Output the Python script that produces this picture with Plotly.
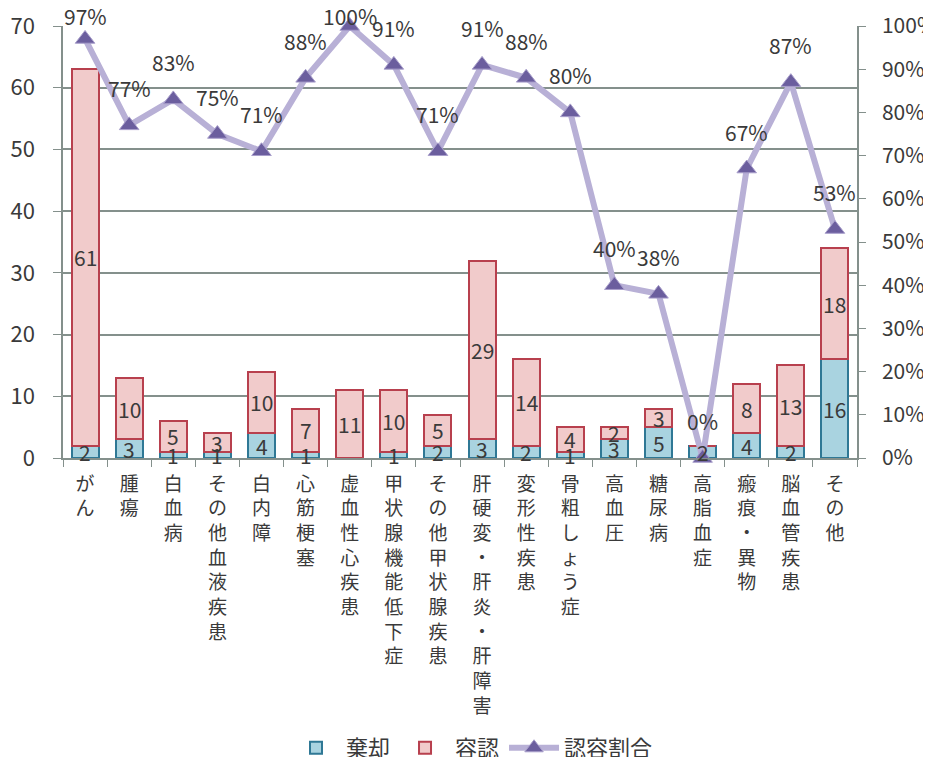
import plotly.graph_objects as go

categories = ["がん", "腫瘍", "白血病", "その他血液疾患", "白内障", "心筋梗塞", "虚血性心疾患",
              "甲状腺機能低下症", "その他甲状腺疾患", "肝硬変・肝炎・肝障害", "変形性疾患",
              "骨粗しょう症", "高血圧", "糖尿病", "高脂血症", "瘢痕・異物", "脳血管疾患", "その他"]
rejected = [2, 3, 1, 1, 4, 1, 0, 1, 2, 3, 2, 1, 3, 5, 2, 4, 2, 16]
accepted = [61, 10, 5, 3, 10, 7, 11, 10, 5, 29, 14, 4, 2, 3, 0, 8, 13, 18]
ratio = [0.97, 0.77, 0.83, 0.75, 0.71, 0.88, 1.00, 0.91, 0.71, 0.91, 0.88, 0.80,
         0.40, 0.38, 0.00, 0.67, 0.87, 0.53]
left_ticks = [0, 10, 20, 30, 40, 50, 60, 70]
right_ticks = [0, 0.1, 0.2, 0.3, 0.4, 0.5, 0.6, 0.7, 0.8, 0.9, 1.0]

FONT = "Noto Sans CJK JP"
TXT = "#3a3a3a"
GRID = "#84908c"

# page has an 8px body margin; figure coordinates = page coordinates - 8
W, H = 915, 749
PL, PR, PT, PB = 55, 849, 18, 450   # plot area in figure pixels

fig = go.Figure()
fig.add_trace(go.Bar(
    x=categories, y=rejected, name="棄却",
    marker=dict(color="#a9d3e0", line=dict(color="#2f7895", width=2)),
))
fig.add_trace(go.Bar(
    x=categories, y=accepted, name="容認",
    marker=dict(color="#f1cbcb", line=dict(color="#b8404e", width=2)),
))
fig.add_trace(go.Scatter(
    x=categories, y=ratio, name="認容割合", yaxis="y2",
    mode="lines+markers", cliponaxis=False,
    line=dict(color="#b8b0d6", width=6),
    marker=dict(symbol="triangle-up", size=17, color="#6b5e9e",
                line=dict(color="#a89ecb", width=1)),
))

plot_h = PB - PT
annotations = []
for c, r, a in zip(categories, rejected, accepted):
    if r:
        annotations.append(dict(x=c, y=r / 2, xref="x", yref="y", text=str(r),
                                showarrow=False, font=dict(size=21, color=TXT, family=FONT)))
    if a:
        annotations.append(dict(x=c, y=r + a / 2, xref="x", yref="y", text=str(a),
                                showarrow=False, font=dict(size=21, color=TXT, family=FONT)))
for c, r in zip(categories, ratio):
    shift = min(37, (1 - r) * plot_h + 10)
    annotations.append(dict(
        x=c, y=r, xref="x", yref="y2", text=f"{round(r * 100)}%",
        showarrow=False, yshift=shift,
        font=dict(size=21, color=TXT, family=FONT),
    ))

fig.update_layout(
    width=W, height=H,
    margin=dict(l=PL, r=W - PR, t=PT, b=H - PB, autoexpand=False),
    paper_bgcolor="white", plot_bgcolor="white",
    barmode="stack", bargap=0.39,
    font=dict(family=FONT, color=TXT),
    annotations=annotations,
    xaxis=dict(
        tickmode="array", tickvals=categories,
        ticktext=["<br>".join(list(c)) for c in categories],
        tickfont=dict(size=19, family=FONT, color=TXT),
        tickangle=0, ticks="outside", tickson="boundaries", ticklen=7,
        tickcolor=GRID, showline=True, linecolor=GRID, linewidth=1.5,
        showgrid=False, range=[-0.5, len(categories) - 0.5],
        ticklabelstandoff=8, automargin=False,
    ),
    yaxis=dict(
        range=[0, 70], tickvals=left_ticks,
        tickfont=dict(size=22, family=FONT, color=TXT),
        showgrid=True, gridcolor=GRID, gridwidth=1.5,
        showline=True, linecolor=GRID, linewidth=1.5,
        ticks="outside", ticklen=8, tickcolor=GRID, ticklabelstandoff=14,
        zeroline=False, automargin=False, ticklabeloverflow="allow",
    ),
    yaxis2=dict(
        overlaying="y", side="right", range=[0, 1], tickvals=right_ticks,
        tickformat=".0%", tickfont=dict(size=21, family=FONT, color=TXT),
        showgrid=False, showline=True, linecolor=GRID, linewidth=1.5,
        ticks="outside", ticklen=7, tickcolor=GRID, ticklabelstandoff=12,
        zeroline=False, automargin=False, ticklabeloverflow="allow",
    ),
    legend=dict(
        orientation="h", x=(472 - 8 - PL) / (PR - PL), xanchor="center",
        y=-(740 - PB) / plot_h, yanchor="middle", itemwidth=50,
        font=dict(size=22, family=FONT, color=TXT), traceorder="normal",
    ),
    showlegend=True,
)

fig.write_html("out.html")
